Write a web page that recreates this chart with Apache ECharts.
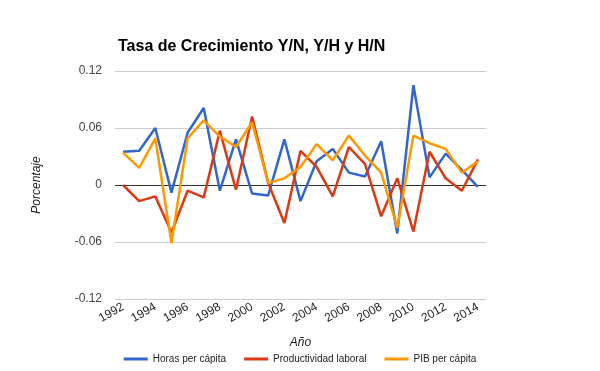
<!DOCTYPE html>
<html><head><meta charset="utf-8">
<script src="https://cdn.jsdelivr.net/npm/echarts@6/dist/echarts.min.js"></script>
<style>html,body{margin:0;padding:0;background:#fff}#c{width:600px;height:371px}</style>
</head><body><div id="c"></div>
<script>
var years = ['1992','1993','1994','1995','1996','1997','1998','1999','2000','2001','2002','2003','2004','2005','2006','2007','2008','2009','2010','2011','2012','2013','2014'];
var horas = [0.035,0.036,0.060,-0.008,0.055,0.081,-0.006,0.048,-0.009,-0.011,0.048,-0.017,0.025,0.038,0.013,0.009,0.046,-0.051,0.105,0.008,0.033,0.016,-0.002];
var productividad = [0.000,-0.017,-0.012,-0.050,-0.006,-0.013,0.057,-0.005,0.072,0.002,-0.040,0.036,0.019,-0.012,0.040,0.022,-0.033,0.007,-0.049,0.035,0.007,-0.006,0.027];
var pib = [0.034,0.018,0.049,-0.061,0.049,0.068,0.051,0.040,0.066,0.002,0.007,0.019,0.043,0.026,0.052,0.031,0.013,-0.045,0.052,0.044,0.038,0.013,0.025];
var yTicks = {min:-0.12, max:0.12, step:0.06};
var names = ['Horas per cápita','Productividad laboral','PIB per cápita'];
var colors = ['#3366CC','#DC3912','#FF9900'];
var font = 'Liberation Sans, Arial, sans-serif';
var chart = echarts.init(document.getElementById('c'), null, {renderer:'canvas'});
function mk(i, data){
  var s = {name:names[i], type:'line', data:data, showSymbol:false, symbol:'none',
    lineStyle:{width:2.5, color:colors[i]}, itemStyle:{color:colors[i]}, z:3};
  if(i===0){
    s.markLine = {silent:true, symbol:'none', label:{show:false}, z:1,
      lineStyle:{color:'#333', width:1, type:'solid'}, data:[{yAxis:0}]};
  }
  return s;
}
chart.setOption({
  animation:false,
  textStyle:{fontFamily:font},
  title:{text:'Tasa de Crecimiento Y/N, Y/H y H/N', left:113, top:34,
    textStyle:{fontFamily:font, fontSize:16, fontWeight:'bold', color:'#000'}},
  grid:{left:115, top:71, width:371, height:228, containLabel:false},
  legend:{bottom:2, left:'center', icon:'rect', itemWidth:24, itemHeight:3, itemGap:18,
    textStyle:{fontFamily:font, fontSize:10, color:'#222'}, data:names},
  xAxis:{type:'category', data:years, boundaryGap:true,
    axisLine:{show:false}, axisTick:{show:false}, splitLine:{show:false},
    axisLabel:{interval:1, rotate:30, fontSize:12, color:'#222', margin:7, fontFamily:font},
    name:'Año', nameLocation:'middle', nameGap:38,
    nameTextStyle:{fontStyle:'italic', fontSize:12, color:'#222', fontFamily:font}},
  yAxis:{type:'value', min:yTicks.min, max:yTicks.max, interval:yTicks.step,
    axisLine:{show:false}, axisTick:{show:false},
    splitLine:{lineStyle:{color:'#cccccc', width:1}},
    axisLabel:{fontSize:12, color:'#444', margin:13, fontFamily:font,
      formatter:function(v){return String(Math.round(v*100)/100);}},
    name:'Porcentaje', nameLocation:'middle', nameGap:72, nameRotate:90,
    nameTextStyle:{fontStyle:'italic', fontSize:12, color:'#222', fontFamily:font}},
  series:[mk(0,horas), mk(1,productividad), mk(2,pib)]
});
</script></body></html>
